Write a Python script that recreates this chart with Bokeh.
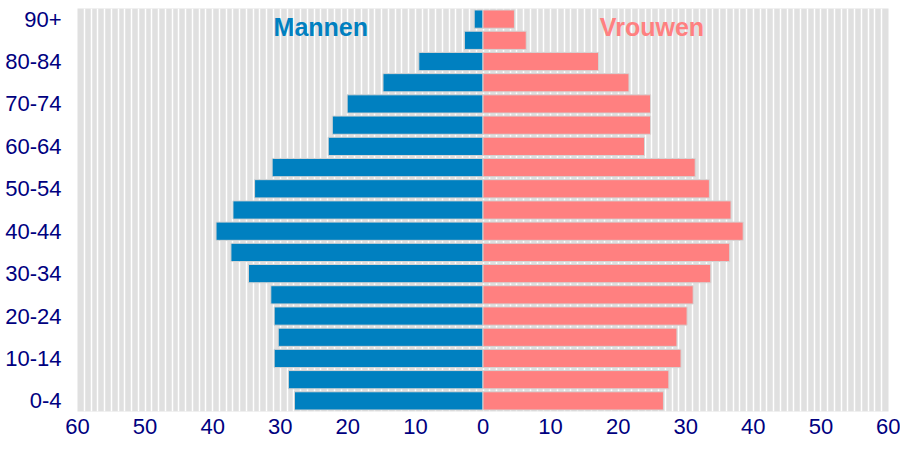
from bokeh.plotting import figure
from bokeh.models import ColumnDataSource, FixedTicker, Label
from bokeh.embed import file_html
from bokeh.resources import INLINE

age_groups = ["0-4", "5-9", "10-14", "15-19", "20-24", "25-29", "30-34", "35-39",
              "40-44", "45-49", "50-54", "55-59", "60-64", "65-69", "70-74",
              "75-79", "80-84", "85-89", "90+"]
mannen = [27.9, 28.8, 30.9, 30.3, 30.9, 31.4, 34.7, 37.3, 39.5, 37.0, 33.8,
          31.2, 22.9, 22.3, 20.1, 14.8, 9.5, 2.75, 1.3]
vrouwen = [26.7, 27.5, 29.3, 28.7, 30.2, 31.1, 33.7, 36.5, 38.5, 36.7, 33.5,
           31.4, 23.9, 24.8, 24.8, 21.6, 17.1, 6.4, 4.65]
x_ticks = [-60, -50, -40, -30, -20, -10, 0, 10, 20, 30, 40, 50, 60]

idx = list(range(len(age_groups)))
src = ColumnDataSource(dict(y=idx, m=[-v for v in mannen], v=vrouwen))

BLUE = "#0080c0"
PINK = "#ff8080"
NAVY = "#000080"

p = figure(width=900, height=443, output_backend="svg", toolbar_location=None,
           x_range=(-60, 60), y_range=(-0.5, len(age_groups) - 0.5),
           min_border_left=77, min_border_right=12, min_border_top=8,
           min_border_bottom=32)
p.background_fill_color = "#e0e0e0"
p.border_fill_color = "white"
p.outline_line_color = None

p.hbar(y="y", left="m", right=0, height=0.86, source=src,
       fill_color=BLUE, line_color="#d4d4d4", line_width=1)
p.hbar(y="y", left=0, right="v", height=0.86, source=src,
       fill_color=PINK, line_color="#d4d4d4", line_width=1)

# grid: white vertical line at every unit
p.xgrid.ticker = FixedTicker(ticks=list(range(-60, 61)))
p.xgrid.grid_line_color = "white"
p.xgrid.grid_line_width = 1.5
p.ygrid.grid_line_color = None

p.xaxis.ticker = FixedTicker(ticks=x_ticks)
p.xaxis.major_label_overrides = {t: str(abs(t)) for t in x_ticks}
p.yaxis.ticker = FixedTicker(ticks=idx[::2])
p.yaxis.major_label_overrides = {i: age_groups[i] for i in idx[::2]}

for ax in (p.xaxis[0], p.yaxis[0]):
    ax.axis_line_color = None
    ax.major_tick_line_color = None
    ax.minor_tick_line_color = None
    ax.major_tick_out = 0
    ax.major_tick_in = 0
    ax.major_label_text_color = NAVY
    ax.major_label_text_font = "Liberation Sans"
    ax.major_label_text_font_size = "22px"
p.xaxis.major_label_standoff = 7
p.yaxis.major_label_standoff = 16

p.add_layout(Label(x=-24.0, y=17.65, text="Mannen", text_color=BLUE,
                   text_font="Liberation Sans", text_font_style="bold",
                   text_font_size="25px", text_align="center",
                   text_baseline="middle"))
p.add_layout(Label(x=25.0, y=17.65, text="Vrouwen", text_color=PINK,
                   text_font="Liberation Sans", text_font_style="bold",
                   text_font_size="25px", text_align="center",
                   text_baseline="middle"))

open("out.html", "w").write(file_html(p, INLINE))
